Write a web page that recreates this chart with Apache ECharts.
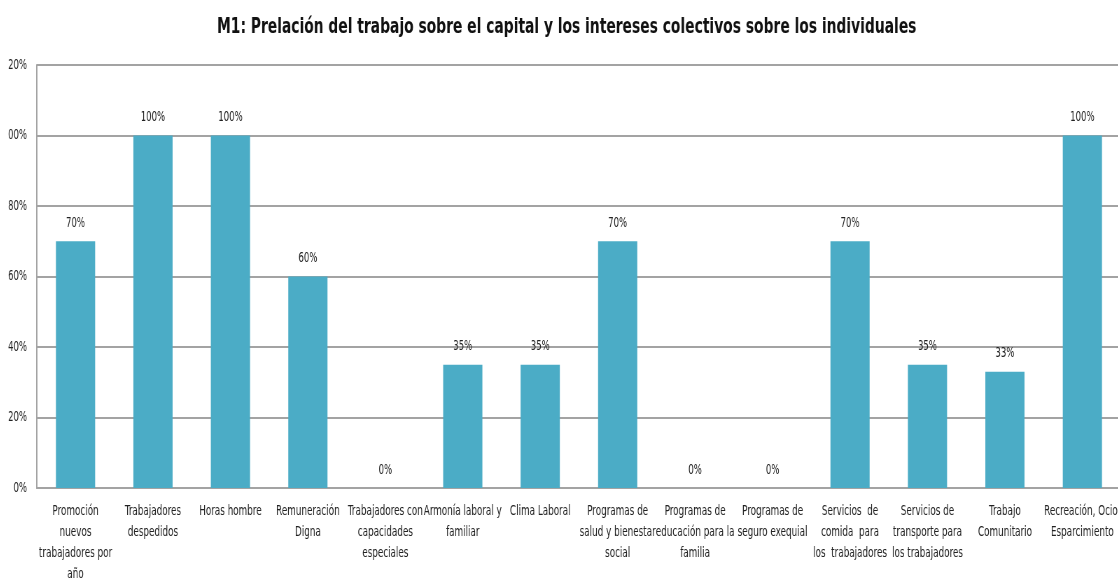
<!DOCTYPE html>
<html>
<head>
<meta charset="utf-8">
<script src="https://cdn.jsdelivr.net/npm/echarts@6/dist/echarts.min.js"></script>
<style>
  html, body { margin: 0; padding: 0; background: #fff; overflow: hidden; }
  #page { position: relative; width: 1118px; height: 584px; overflow: hidden; background: #fff; }
  /* the chart area is cut a few pixels in from the left edge */
  #frame { position: absolute; left: 8px; top: 0; width: 1110px; height: 584px; overflow: hidden; }
  /* the chart is laid out wide and squeezed horizontally */
  #chart {
    position: absolute; left: -16px; top: 0;
    width: 1609px; height: 584px;
    transform: scaleX(0.7); transform-origin: 0 0;
  }
</style>
</head>
<body>
<div id="page"><div id="frame"><div id="chart"></div></div></div>
<script>
const titleText = 'M1: Prelación del trabajo sobre el capital y los intereses colectivos sobre los individuales';

const categories = [
  'Promoción\nnuevos\ntrabajadores por\naño',
  'Trabajadores\ndespedidos',
  'Horas hombre',
  'Remuneración\nDigna',
  'Trabajadores con\ncapacidades\nespeciales',
  'Armonía laboral y\nfamiliar',
  'Clima Laboral',
  'Programas de\nsalud y bienestar\nsocial',
  'Programas de\neducación para la\nfamilia',
  'Programas de\nseguro exequial',
  'Servicios  de\ncomida  para\nlos  trabajadores',
  'Servicios de\ntransporte para\nlos trabajadores',
  'Trabajo\nComunitario',
  'Recreación, Ocio,\nEsparcimiento'
];

const percentValues = [70, 100, 100, 60, 0, 35, 35, 70, 0, 0, 70, 35, 33, 100];

const yTicks = { min: 0, max: 120, step: 20 };

const FONT = '"DejaVu Sans Condensed", "DejaVu Sans", sans-serif';
const INK = '#222222';
const RULE = '#a3a3a3';

const chart = echarts.init(document.getElementById('chart'), null, { renderer: 'canvas' });

chart.setOption({
  animation: false,
  backgroundColor: '#ffffff',
  title: {
    text: titleText,
    left: 816,
    top: 11,
    textAlign: 'center',
    textStyle: {
      fontFamily: FONT,
      fontWeight: 'bold',
      fontSize: 22,
      color: '#111111'
    }
  },
  grid: {
    left: 64,
    top: 65,
    width: 1549,
    height: 423,
    containLabel: false,
    outerBoundsMode: 'none'
  },
  xAxis: {
    type: 'category',
    data: categories,
    axisLine: { show: true, lineStyle: { color: RULE, width: 2 } },
    axisTick: { show: false },
    axisLabel: {
      interval: 0,
      margin: 13,
      fontFamily: FONT,
      fontSize: 14,
      lineHeight: 21,
      color: INK,
      align: 'center'
    }
  },
  yAxis: {
    type: 'value',
    min: yTicks.min,
    max: yTicks.max,
    interval: yTicks.step,
    axisLine: { show: true, lineStyle: { color: RULE, width: 2 } },
    axisTick: { show: false },
    splitLine: { show: true, lineStyle: { color: RULE, width: 2 } },
    axisLabel: {
      formatter: '{value}%',
      margin: 14,
      fontFamily: FONT,
      fontSize: 13.5,
      color: INK
    }
  },
  series: [{
    type: 'bar',
    data: percentValues,
    barWidth: 56,
    itemStyle: { color: '#4bacc6' },
    label: {
      show: true,
      position: 'top',
      distance: 11,
      formatter: '{c}%',
      fontFamily: FONT,
      fontSize: 13.5,
      color: INK
    }
  }]
});
</script>
</body>
</html>
